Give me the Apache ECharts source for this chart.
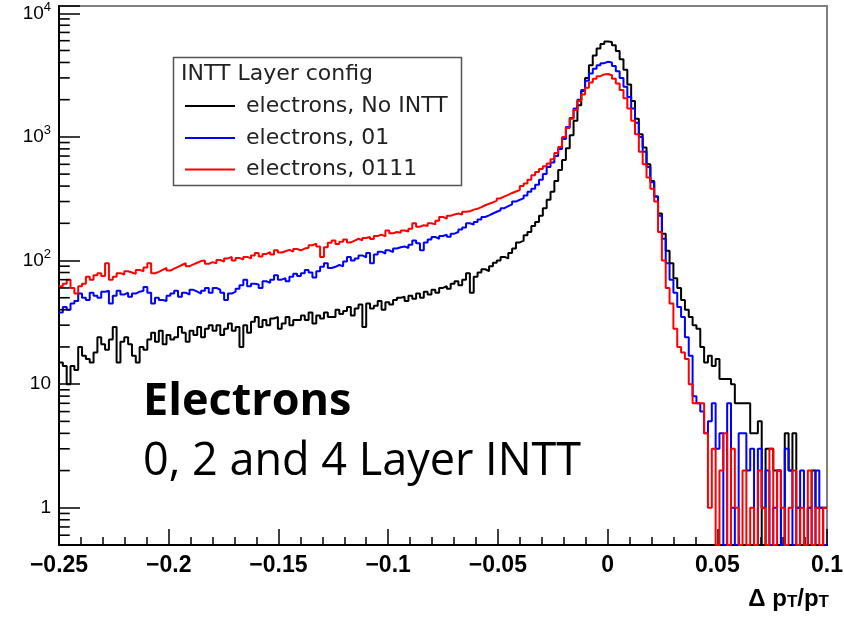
<!DOCTYPE html>
<html>
<head>
<meta charset="utf-8">
<script src="https://cdn.jsdelivr.net/npm/echarts@6/dist/echarts.min.js"></script>
<style>
html,body{margin:0;padding:0;background:#fff;}
#chart{width:844px;height:621px;}
</style>
</head>
<body>
<div id="chart"></div>
<script>
// ---- binning of the histograms (x range and number of bins) ----
const binLow = -0.25;
const binHigh = 0.1;
const nBins = 200;

// ---- axis ranges / tick values ----
const yMin = 0.5;
const yMax = 11450;
const xTickInterval = 0.05;
const yMinorTickValues = [0.6,0.7,0.8,0.9, 2,3,4,5,6,7,8,9, 20,30,40,50,60,70,80,90,
  200,300,400,500,600,700,800,900, 2000,3000,4000,5000,6000,7000,8000,9000];
const yMinorTickCenterX = binLow + 0.0024;

// ---- legend / series names ----
const legendTitle = 'INTT Layer config';
const seriesNames = ['electrons, No INTT', 'electrons, 01', 'electrons, 0111'];
const seriesColors = ['#000000', '#0000ff', '#ff0000'];

// ---- bin contents ----
const countsNoINTT = [
 15,14,10,14,13,20,17,16,15,18,
 24,21,19,23,29,15,22,24,21,17,
 15,20,19,23,26,22,27,21,25,23,
 24,29,26,22,27,25,29,24,28,30,
 27,30,25,28,31,27,29,20,30,26,
 32,35,29,33,30,34,35,28,31,35,
 30,33,33,36,33,38,31,36,34,38,
 35,35,40,37,39,42,36,41,44,29,
 45,41,43,47,40,46,44,48,50,51,
 47,52,49,54,50,56,53,58,55,60,
 62,59,65,68,63,70,79,55,74,80,
 85,82,90,96,100,107,104,115,125,140,
 145,160,170,190,205,230,265,310,360,440,
 540,650,810,1030,1350,1800,2350,3000,3800,4550,
 5200,5650,5900,5850,5500,4950,4250,3500,2650,1950,
 1400,1050,820,600,440,330,240,165,120,95,
 72,60,48,40,35,30,28,20,15,17,
 14,16,11,11,11,10,7,7,7,7,
 4,4,5,0,3,3,2,2,0,4,
 2,4,1,0,0,1,2,1,1,1
];
const counts01 = [
 38,42,40,45,47,54,50,48,55,52,
 50,56,57,45,52,57,53,55,51,54,
 56,57,61,55,45,50,48,47,52,54,
 57,51,55,53,58,56,54,57,60,55,
 60,58,55,48,54,56,59,63,70,62,
 65,64,60,68,66,70,76,70,72,68,
 74,78,75,79,84,80,73,82,89,95,
 87,89,92,90,98,107,100,104,110,106,
 115,95,112,118,114,121,117,125,128,130,
 126,134,145,138,121,140,148,155,150,158,
 162,156,165,170,178,185,200,195,205,215,
 225,232,240,248,255,265,275,285,300,310,
 318,335,360,380,410,450,500,570,620,700,
 800,960,1200,1420,1700,2000,2400,2850,3250,3550,
 3800,3950,4050,4000,3750,3400,3000,2550,2100,1700,
 1300,1000,760,570,430,330,230,150,95,70,
 55,42,35,24,17,8,7,6,4,5,
 7,3,4,0,7,1,0,4,4,2,
 3,0,3,1,2,0,1,2,0,3,
 2,0,1,2,0,1,0,2,1,0
];
const counts0111 = [
 62,65,70,60,54,62,65,74,70,76,
 79,75,95,70,74,79,77,82,80,78,
 84,82,88,95,79,81,84,87,83,86,
 89,92,95,90,93,96,99,100,94,97,
 95,101,98,104,107,100,105,102,107,104,
 110,115,108,113,117,112,121,116,119,122,
 118,124,121,125,127,133,137,130,107,128,
 139,145,136,142,148,140,145,150,146,152,
 155,149,158,162,157,175,166,170,168,175,
 172,181,200,188,193,190,200,196,210,225,
 218,230,236,240,235,248,250,258,262,270,
 280,288,295,305,318,330,340,352,362,372,
 400,420,450,490,520,550,580,610,660,740,
 830,1000,1180,1400,1650,1950,2200,2500,2750,2950,
 3100,3200,3230,3150,2950,2700,2400,2050,1700,1350,
 1050,760,600,470,380,300,170,100,60,45,
 28,20,18,16,10,7,7,7,4,1,
 3,0,2,4,0,3,1,0,2,0,
 1,0,2,1,0,3,0,2,1,0,
 1,2,0,1,0,2,0,1,0,1
];
const allCounts = [countsNoINTT, counts01, counts0111];

// ---- build step data: each bin's left edge, plus closing point at the right edge ----
const binWidth = (binHigh - binLow) / nBins;
function histData(counts) {
  const d = counts.map((c, i) => [binLow + i * binWidth, c > 0 ? c : yMin]);
  const last = counts[counts.length - 1];
  d.push([binHigh, last > 0 ? last : yMin]);
  return d;
}

const chart = echarts.init(document.getElementById('chart'), null, {renderer: 'canvas'});

function fmtX(v) {
  const s = String(parseFloat(v.toFixed(3)));
  return s.replace('-', '\u2212');
}
function fmtY(v) {
  const l = Math.log10(v);
  const e = Math.round(l);
  if (Math.abs(l - e) > 1e-6) return '';
  if (e === 0) return '1';
  if (e === 1) return '10';
  return '10{sup|' + e + '}';
}

const lineSeries = allCounts.map((counts, k) => ({
  name: seriesNames[k],
  type: 'line',
  step: 'end',
  data: histData(counts),
  showSymbol: false,
  symbol: 'none',
  clip: true,
  silent: true,
  animation: false,
  lineStyle: {color: seriesColors[k], width: 2},
  itemStyle: {color: seriesColors[k]},
  z: 2 + k
}));

// minor ticks of the log y axis (2..9 x 10^n), placed through the axis scales
const minorTickSeries = {
  type: 'scatter',
  animation: false,
  data: yMinorTickValues.map(v => [yMinorTickCenterX, v]),
  symbol: 'rect',
  symbolSize: [11, 1.6],
  itemStyle: {color: '#000000', opacity: 1},
  emphasis: {disabled: true},
  z: 20
};

const legendY = [106, 138, 169.5];
const legendGraphics = [
  {type: 'rect', shape: {x: 173.5, y: 57.5, width: 288, height: 128},
   style: {fill: '#fff', stroke: '#555', lineWidth: 1.5}, z: 100},
  {type: 'text', x: 181, y: 74, z: 101,
   style: {text: legendTitle, font: '22px "DejaVu Sans"', fill: '#222', verticalAlign: 'middle', align: 'left'}}
];
seriesNames.forEach((n, k) => {
  legendGraphics.push({type: 'line', z: 101,
    shape: {x1: 185, y1: legendY[k], x2: 235, y2: legendY[k]},
    style: {stroke: seriesColors[k], lineWidth: 2}});
  legendGraphics.push({type: 'text', x: 246, y: legendY[k], z: 101,
    style: {text: n, font: '22px "DejaVu Sans"', fill: '#222', verticalAlign: 'middle', align: 'left'}});
});

const textGraphics = [
  {type: 'text', x: 143, y: 402, z: 120,
   style: {text: 'Electrons', font: 'bold 45px "Open Sans"', fill: '#000', verticalAlign: 'middle', align: 'left'}},
  {type: 'text', x: 143, y: 462, z: 120,
   style: {text: '0, 2 and 4 Layer INTT', font: '45px "Open Sans"', fill: '#000', verticalAlign: 'middle', align: 'left'}},
  {type: 'text', x: 829, y: 598, z: 120,
   style: {
     text: '{a|\u0394 p}{s|T}{a|/p}{s|T}', align: 'right', verticalAlign: 'middle',
     rich: {
       a: {fontFamily: 'Liberation Sans', fontWeight: 'bold', fontSize: 24, fill: '#000', verticalAlign: 'bottom'},
       s: {fontFamily: 'Liberation Sans', fontWeight: 'bold', fontSize: 17, fill: '#000', verticalAlign: 'bottom', padding: [9, 0, 0, 0]}
     }
   }}
];

const option = {
  animation: false,
  backgroundColor: '#ffffff',
  grid: {
    left: 59, right: 17, top: 6, bottom: 76,
    containLabel: false,
    outerBoundsMode: 'none',
    show: true, borderColor: '#808080', borderWidth: 2, backgroundColor: 'transparent'
  },
  xAxis: {
    type: 'value',
    min: binLow, max: binHigh, interval: xTickInterval,
    axisLine: {show: true, onZero: false, lineStyle: {color: '#000', width: 2}},
    axisTick: {show: true, inside: true, length: 16, lineStyle: {color: '#000', width: 1.5}},
    minorTick: {show: true, splitNumber: 5, length: 8, lineStyle: {color: '#000', width: 1.5}},
    splitLine: {show: false},
    minorSplitLine: {show: false},
    axisLabel: {
      show: true, formatter: fmtX, margin: 9,
      fontFamily: 'Liberation Sans', fontWeight: 'bold', fontSize: 23, color: '#000',
      showMinLabel: true, showMaxLabel: true
    }
  },
  yAxis: {
    type: 'log', logBase: 10,
    min: yMin, max: yMax,
    axisLine: {show: true, onZero: false, lineStyle: {color: '#000', width: 2}},
    axisTick: {show: true, inside: true, length: 21, lineStyle: {color: '#000', width: 1.5}},
    minorTick: {show: false},
    splitLine: {show: false},
    axisLabel: {
      show: true, formatter: fmtY, margin: 8,
      fontFamily: 'Liberation Sans', fontSize: 19, color: '#000',
      rich: {
        sup: {fontFamily: 'Liberation Sans', fontSize: 13, color: '#000', verticalAlign: 'top', padding: [0, 0, 12, 0]}
      }
    }
  },
  series: lineSeries.concat([minorTickSeries]),
  graphic: legendGraphics.concat(textGraphics)
};
chart.setOption(option);
</script>
</body>
</html>
